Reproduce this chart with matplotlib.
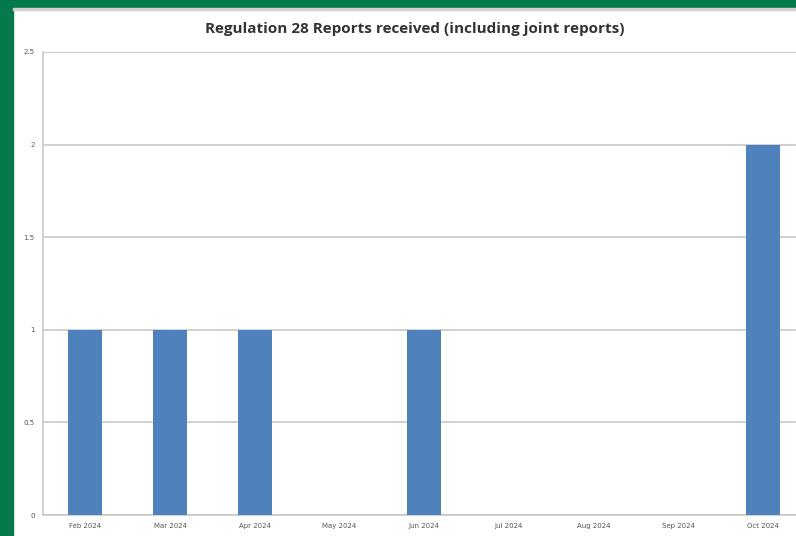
import matplotlib.pyplot as plt
import matplotlib.patches as patches

months = ['Feb 2024', 'Mar 2024', 'Apr 2024', 'May 2024', 'Jun 2024',
          'Jul 2024', 'Aug 2024', 'Sep 2024', 'Oct 2024']
reports = [1, 1, 1, 0, 1, 0, 0, 0, 2]
yticks = [0, 0.5, 1, 1.5, 2, 2.5]
ytick_labels = ['0', '0.5', '1', '1.5', '2', '2.5']

W, H = 796, 536
fig = plt.figure(figsize=(W / 100, H / 100), dpi=100)
fig.patch.set_facecolor('white')

# green frame on top and left
green = '#04794a'
fig.patches.append(patches.Rectangle((0, 1 - 8 / H), 1, 8 / H, transform=fig.transFigure,
                                     color=green, zorder=0))
fig.patches.append(patches.Rectangle((0, 0), 13 / W, 1, transform=fig.transFigure,
                                     color=green, zorder=0))
fig.patches.append(patches.Rectangle((13 / W, 1 - 10 / H), 1, 2 / H, transform=fig.transFigure,
                                     color='#d0d0d0', zorder=0))

ax = fig.add_axes([43 / W, 21 / H, 762 / W, 463 / H])
x = range(len(months))
ax.bar(x, reports, width=0.4, color='#4f81bd', zorder=3)
ax.set_xlim(-0.5, len(months) - 0.5)
ax.set_ylim(0, 2.5)
ax.set_yticks(yticks)
ax.set_yticklabels(ytick_labels)
ax.set_xticks(list(x))
ax.set_xticklabels(months)
ax.tick_params(axis='both', length=0, labelsize=5, colors='#555555', pad=6)
ax.yaxis.grid(True, color='#c8c8c8', linewidth=1.2, zorder=0)
for s in ['top', 'right']:
    ax.spines[s].set_visible(False)
for s in ['left', 'bottom']:
    ax.spines[s].set_color('#c8c8c8')
    ax.spines[s].set_linewidth(1.2)

fig.text(415 / W, 1 - 29 / H, 'Regulation 28 Reports received (including joint reports)',
         ha='center', va='center', fontsize=11, fontweight='bold', color='#333333',
         family='Open Sans')

fig.savefig('out.png', dpi=100)
